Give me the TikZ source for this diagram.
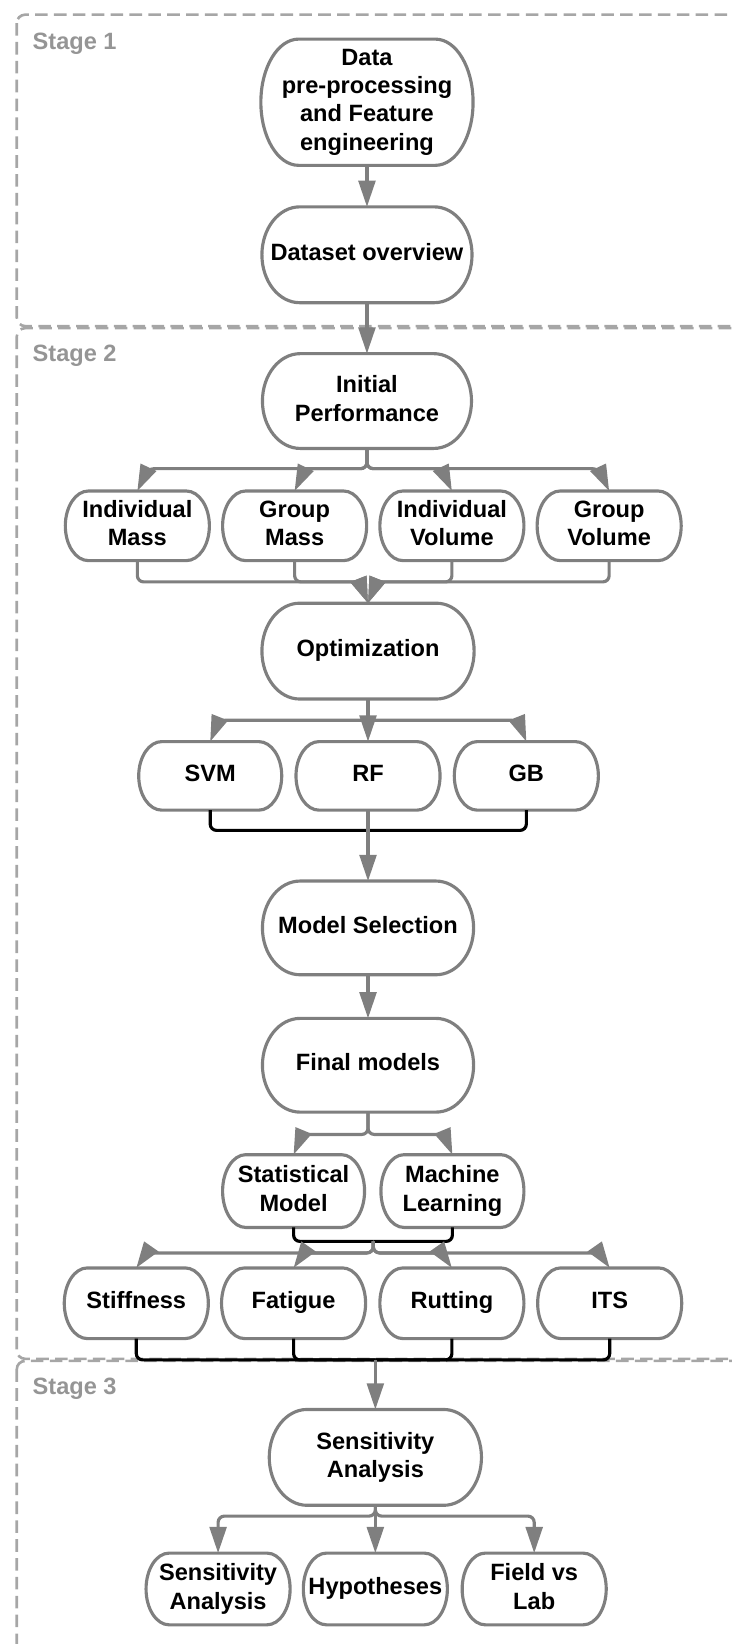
\documentclass[tikz,border=0pt]{standalone}
\usepackage{fontspec}
\setmainfont{Liberation Sans}
\usetikzlibrary{arrows.meta,calc}

\definecolor{linegray}{HTML}{7F7F7F}
\definecolor{framegray}{HTML}{A6A6A6}
\definecolor{labelgray}{HTML}{959595}

% invisible rules fixing the height of the first line and the depth of the
% last line of every box text
\newcommand\topstrut{\rule{0pt}{\strutTop}}
\newcommand\botstrut{\rule[-\strutBot]{0pt}{\strutBot}}

\tikzset{
  strut top/.store in=\strutTop,
  strut bottom/.store in=\strutBot,
  box/.style={inner sep=0pt, align=center, text=black,
    font=\bfseries\fontsize{22.5}{27}\selectfont,
    strut top=21.1pt, strut bottom=5pt,
    execute at begin node=\topstrut, execute at end node=\botstrut},
  oneline/.style={strut top=16.5pt, strut bottom=6.4pt},
  wh/.style 2 args={minimum width=#1pt, minimum height=#2pt},
  outline/.style={draw=linegray, line width=3pt},
  flow/.style={draw=linegray, line width=3pt, rounded corners=6pt,
    -{Triangle[length=25pt,width=16pt]}},
  bracket/.style={draw=black, line width=3pt, rounded corners=6pt},
  stageframe/.style={draw=framegray, line width=2.5pt,
    dash pattern=on 12pt off 6pt, rounded corners=8pt},
  stagelabel/.style={anchor=base west, inner sep=0pt, text=labelgray,
    font=\bfseries\fontsize{22.5}{27}\selectfont},
}

% outline of a box with flat top and bottom and half-elliptic ends
\newcommand\pillframe[2]{%
  \path[outline] let \p1=(#1.south west), \p2=(#1.north east),
      \n1={(\y2-\y1)/2} in
    (\x1+#2,\y1) -- (\x2-#2,\y1)
    arc[start angle=-90, end angle=90, x radius=#2, y radius=\n1*1pt]
    -- (\x1+#2,\y2)
    arc[start angle=90, end angle=270, x radius=#2, y radius=\n1*1pt]
    -- cycle;
}

\begin{document}
\begin{tikzpicture}[x=1pt, y=-1pt]
\useasboundingbox (0,0) rectangle (698,1568);
\clip (0,0) rectangle (698,1568);

% stage frames
\draw[stageframe] (16,14) rectangle (760,311);
\draw[stageframe] (16,313) rectangle (760,1296);
\draw[stageframe] (16,1298) rectangle (760,1620);
\node[stagelabel] (s1) at (31,47) {Stage 1};
\node[stagelabel] (s2) at (31,345) {Stage 2};
\node[stagelabel] (s3) at (31,1330) {Stage 3};

% stage 1
\node[box, wh={202}{120}] (data) at (350,97.5) {Data\\pre-processing\\and Feature\\engineering};
\node[box, oneline, wh={200}{91}] (overview) at (350,243) {Dataset overview};

% stage 2
\node[box, wh={199}{90}] (init) at (350,382.5) {Initial\\Performance};
\node[box, wh={137}{66}] (im) at (131,501.5) {Individual\\Mass};
\node[box, wh={137}{66}] (gm) at (281,501.5) {Group\\Mass};
\node[box, wh={137}{66}] (iv) at (431,501.5) {Individual\\Volume};
\node[box, wh={137}{66}] (gv) at (581,501.5) {Group\\Volume};
\node[box, oneline, wh={202}{91}] (opt) at (351,621) {Optimization};
\node[box, oneline, wh={136}{65}] (svm) at (200.5,740) {SVM};
\node[box, oneline, wh={137}{65}] (rf) at (351,740) {RF};
\node[box, oneline, wh={137}{65}] (gb) at (502,740) {GB};
\node[box, oneline, wh={201}{89}] (msel) at (351,885) {Model Selection};
\node[box, oneline, wh={201}{89}] (final) at (351,1016) {Final models};
\node[box, wh={135}{69}] (stat) at (280,1136) {Statistical\\Model};
\node[box, wh={136}{69}] (ml) at (431.5,1136) {Machine\\Learning};
\node[box, oneline, wh={137}{67}] (stiff) at (130,1243) {Stiffness};
\node[box, oneline, wh={137}{67}] (fat) at (280,1243) {Fatigue};
\node[box, oneline, wh={137}{67}] (rut) at (431,1243) {Rutting};
\node[box, oneline, wh={137}{67}] (its) at (581.5,1243) {ITS};

% stage 3
\node[box, wh={202}{91}] (sens) at (358,1390) {Sensitivity\\Analysis};
\node[box, wh={137}{68}] (sa2) at (208,1515.5) {Sensitivity\\Analysis};
\node[box, oneline, wh={137}{68}] (hyp) at (358,1515.5) {Hypotheses};
\node[box, wh={137}{68}] (fvl) at (509.5,1515.5) {Field vs\\Lab};

\foreach \nd in {data,overview,init,opt,msel,final,sens} {\pillframe{\nd}{36pt}}
\foreach \nd in {im,gm,iv,gv,svm,rf,gb,stat,ml,stiff,fat,rut,its,sa2,hyp,fvl} {\pillframe{\nd}{22pt}}

% levels of the horizontal runs
\coordinate (b1) at (0,447);
\coordinate (b2) at (0,555);
\coordinate (b3) at (0,687);
\coordinate (j3) at (351,792);
\coordinate (b4) at (0,1082);
\coordinate (j4) at (356,1184);
\coordinate (b5) at (0,1195);
\coordinate (j5) at (358,1297);
\coordinate (b6) at (0,1446);

% stage 1 flow
\draw[flow] (data) -- (overview);
\draw[flow] (overview) -- (init);

% initial performance to the four feature sets
\foreach \nd/\s in {im/10, gm/10, iv/-10, gv/-10}
  \draw[flow] (init.south) -- (init.south |- b1) -- ($(\nd.north |- b1)+(\s,0)$) -- (\nd.north);
\foreach \nd/\s in {im/-8, gm/-8, iv/8, gv/8}
  \draw[flow] (\nd.south) -- (\nd.south |- b2) -- ($(opt.north |- b2)+(\s,0)$) -- (opt.north);

% optimization to the three learners
\draw[flow] (opt.south) -- (rf.north);
\draw[flow] (opt.south) -- (opt.south |- b3) -- ($(svm.north |- b3)+(8,0)$) -- (svm.north);
\draw[flow] (opt.south) -- (opt.south |- b3) -- ($(gb.north |- b3)+(-8,0)$) -- (gb.north);
\draw[bracket] (svm.south) |- (j3);
\draw[bracket] (gb.south) |- (j3);
\draw[flow] (rf.south) -- (msel.north);
\draw[flow] (msel) -- (final);

% final models
\draw[flow] (final.south) -- (final.south |- b4) -- ($(stat.north |- b4)+(8,0)$) -- (stat.north);
\draw[flow] (final.south) -- (final.south |- b4) -- ($(ml.north |- b4)+(-8,0)$) -- (ml.north);
\draw[bracket] (stat.south) |- (j4);
\draw[bracket] (ml.south) |- (j4);
\foreach \nd/\s in {stiff/10, fat/10, rut/-10, its/-10}
  \draw[flow] (j4) -- (j4 |- b5) -- ($(\nd.north |- b5)+(\s,0)$) -- (\nd.north);
\foreach \nd in {stiff,fat,rut,its}
  \draw[bracket] (\nd.south) |- (j5);

% stage 3 flow
\draw[flow] (j5) -- (sens.north);
\draw[flow] (sens.south) -- (hyp.north);
\draw[flow] (sens.south) -- (sens.south |- b6) -| (sa2.north);
\draw[flow] (sens.south) -- (sens.south |- b6) -| (fvl.north);
\end{tikzpicture}
\end{document}
